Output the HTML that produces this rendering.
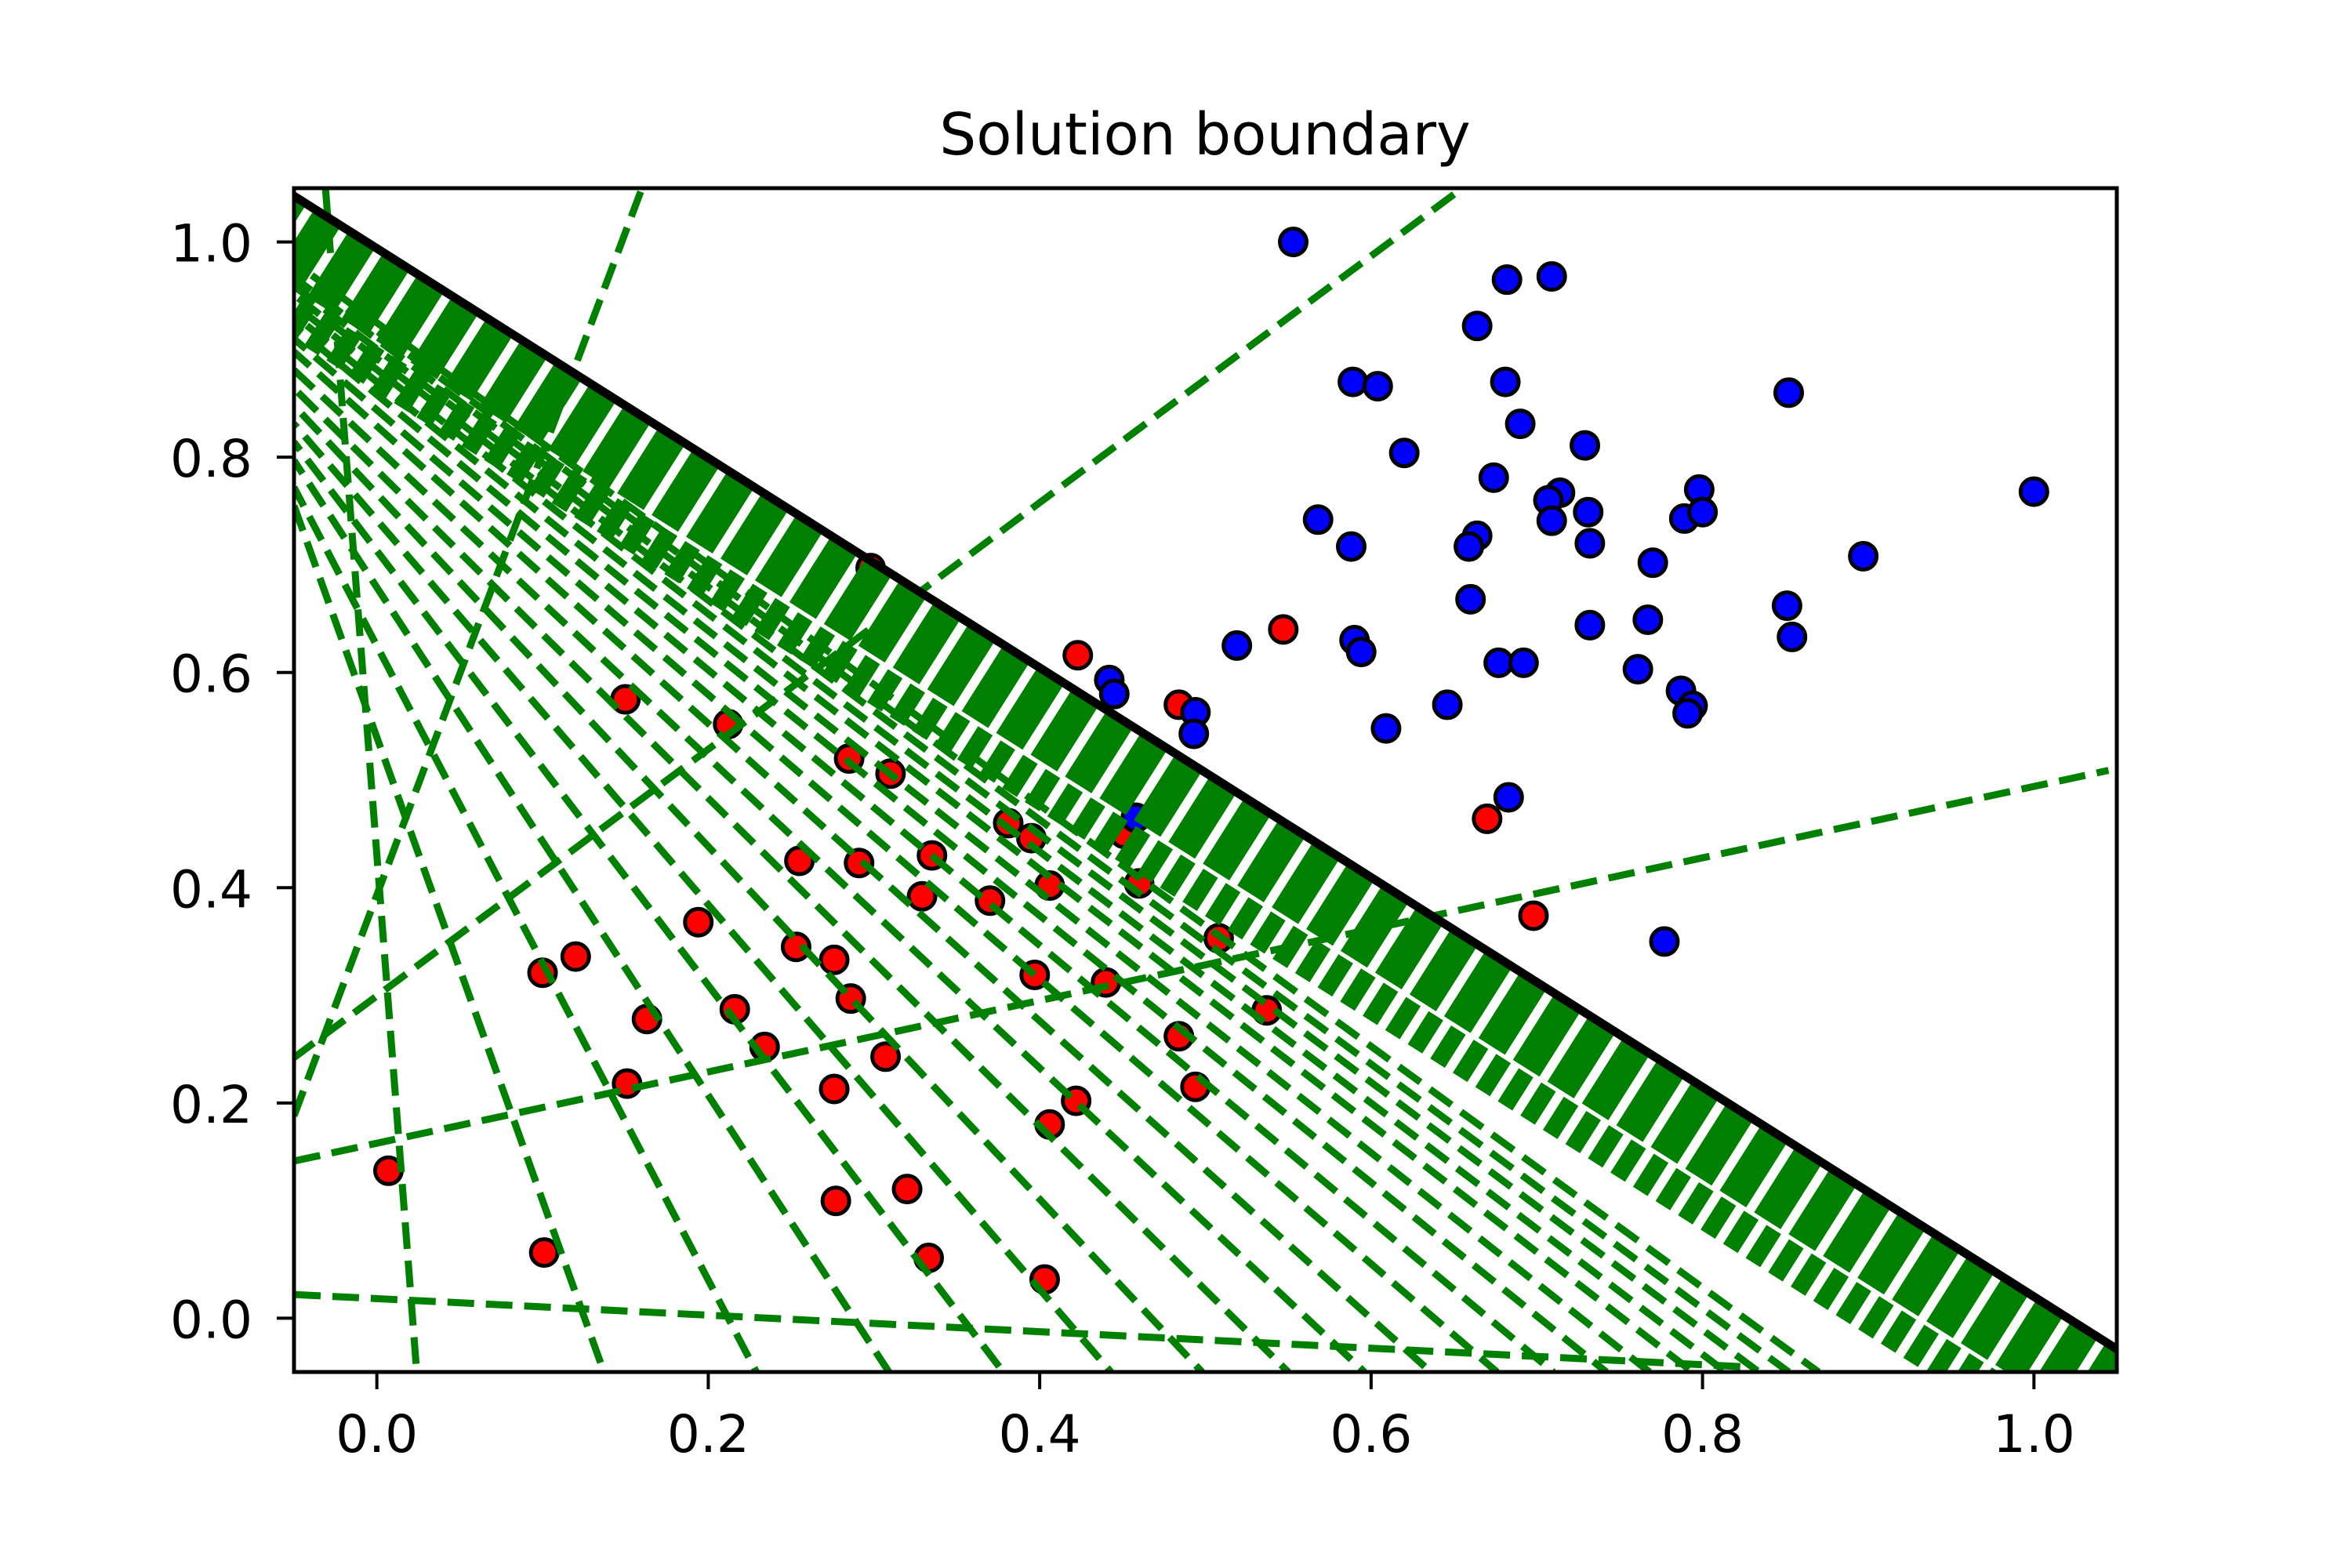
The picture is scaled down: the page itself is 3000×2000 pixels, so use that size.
<!DOCTYPE html>
<html><head><meta charset="utf-8"><style>
html,body{margin:0;padding:0;background:#fff;}
svg{display:block;}
text{font-family:"DejaVu Sans","Liberation Sans",sans-serif;fill:#000;}
</style></head><body>
<svg id="chart" width="3000" height="2000" viewBox="0 0 3000 2000" xmlns="http://www.w3.org/2000/svg">
<defs><clipPath id="clip"><rect x="375" y="240" width="2325" height="1510"/></clipPath></defs>
<rect x="0" y="0" width="3000" height="2000" fill="#fff"/>
<text x="1537" y="197" font-size="74" text-anchor="middle">Solution boundary</text>
<g id="plot" clip-path="url(#clip)"></g>
<rect x="375" y="240" width="2325" height="1510" fill="none" stroke="#000" stroke-width="5"/>
<g id="axes"></g>
</svg>
<script>
const xTicks=[0.0,0.2,0.4,0.6,0.8,1.0];
const yTicks=[0.0,0.2,0.4,0.6,0.8,1.0];
const tickLabels=["0.0","0.2","0.4","0.6","0.8","1.0"];
const redX=[0.298,0.423,0.547,0.150,0.212,0.285,0.310,0.484,0.381,0.395,0.451,0.460,0.406,0.255,0.291,0.335,0.329,0.370,0.194,0.253,0.276,0.120,0.100,0.397,0.440,0.508,0.698,0.670,0.537,0.286,0.216,0.163,0.234,0.307,0.484,0.494,0.276,0.151,0.422,0.406,0.007,0.277,0.320,0.101,0.333,0.403];
const redY=[0.697,0.616,0.640,0.575,0.552,0.520,0.506,0.570,0.460,0.446,0.450,0.404,0.402,0.425,0.423,0.430,0.392,0.388,0.368,0.345,0.333,0.336,0.321,0.319,0.312,0.353,0.374,0.464,0.286,0.297,0.287,0.278,0.252,0.243,0.262,0.215,0.213,0.218,0.202,0.180,0.137,0.109,0.120,0.061,0.056,0.036];
const blueX=[0.553,0.682,0.709,0.664,0.589,0.604,0.681,0.690,0.852,0.729,0.620,0.674,0.714,0.707,0.798,1.0,0.731,0.709,0.789,0.800,0.568,0.664,0.659,0.588,0.732,0.770,0.897,0.660,0.767,0.732,0.851,0.854,0.519,0.590,0.594,0.677,0.692,0.761,0.442,0.445,0.787,0.794,0.791,0.646,0.494,0.493,0.609,0.683,0.458,0.777];
const blueY=[1.0,0.965,0.968,0.922,0.870,0.866,0.870,0.831,0.860,0.811,0.804,0.781,0.767,0.760,0.770,0.768,0.749,0.741,0.743,0.749,0.742,0.727,0.717,0.717,0.720,0.702,0.708,0.668,0.649,0.644,0.662,0.633,0.625,0.630,0.619,0.609,0.609,0.603,0.593,0.580,0.583,0.569,0.562,0.570,0.563,0.543,0.548,0.484,0.465,0.350];
// standalone dashed history lines (data coords)
const lineX1=[-0.051,-0.05,-0.05,-0.05,-0.031];
const lineY1=[0.241,0.188,0.146,0.022,1.05];
const lineX2=[0.655,0.160,1.045,0.823,0.024];
const lineY2=[1.05,1.05,0.509,-0.045,-0.049];
// fan of history lines: start height on left edge (x=-0.05), end x at bottom edge (y=-0.05)
const fanStartY=[0.755,0.772,0.797,0.814,0.831,0.848,0.864,0.881,0.898,0.910,0.922,0.932,0.942,0.951,0.959,0.967,0.974,0.981];
const fanEndX=[0.137,0.229,0.309,0.378,0.443,0.498,0.550,0.596,0.636,0.676,0.710,0.742,0.768,0.794,0.814,0.834,0.852,0.870];
const boundaryIntercept=0.994, boundarySlope=-0.974;

const NS="http://www.w3.org/2000/svg";
const X0=-0.05,X1=1.05,Y0=-0.05,Y1=1.05,L=375,R=2700,T=240,B=1750;
function sx(v){return L+(v-X0)/(X1-X0)*(R-L);}
function sy(v){return B-(v-Y0)/(Y1-Y0)*(B-T);}
const plot=document.getElementById('plot'), axes=document.getElementById('axes');
function mk(tag,attrs,parent){const e=document.createElementNS(NS,tag);for(const k in attrs)e.setAttribute(k,attrs[k]);parent.appendChild(e);return e;}

for(let i=0;i<redX.length;i++){
  const c=mk('circle',{cx:sx(redX[i]),cy:sy(redY[i]),r:17,fill:'#ff0000',stroke:'#000','stroke-width':5},plot);
  
  
}
for(let i=0;i<blueX.length;i++){
  const c=mk('circle',{cx:sx(blueX[i]),cy:sy(blueY[i]),r:17,fill:'#0000ff',stroke:'#000','stroke-width':5},plot);
  
  
}
for(let i=0;i<lineX1.length;i++){
  const l=mk('line',{x1:sx(lineX1[i]),y1:sy(lineY1[i]),x2:sx(lineX2[i]),y2:sy(lineY2[i]),stroke:'#008000','stroke-width':9,'stroke-dasharray':'34 15'},plot);
  
  
}
for(let i=0;i<fanStartY.length;i++){
  const l=mk('line',{x1:sx(X0),y1:sy(fanStartY[i]),x2:sx(fanEndX[i]),y2:sy(Y0),stroke:'#008000','stroke-width':9,'stroke-dasharray':'34 15','stroke-dashoffset':i*7},plot);
  
  
}
// boundary endpoints
const bx1=sx(-0.1),by1=sy(boundaryIntercept+boundarySlope*-0.1),bx2=sx(1.15),by2=sy(boundaryIntercept+boundarySlope*1.15);
let dx=bx2-bx1,dy=by2-by1,len=Math.hypot(dx,dy);let nx=-dy/len,ny=dx/len;if(ny<0){nx=-nx;ny=-ny;}
function band(off,w,dash,name){
  const l=mk('line',{x1:bx1+nx*off,y1:by1+ny*off,x2:bx2+nx*off,y2:by2+ny*off,stroke:'#008000','stroke-width':w,'stroke-dasharray':dash},plot);
  
  
}
band(130,50,'22 12','green-band-outer');
band(50,100,'40 12','green-band');
const bl=mk('line',{x1:bx1,y1:by1,x2:bx2,y2:by2,stroke:'#000','stroke-width':11},plot);



for(let i=0;i<xTicks.length;i++){
  const x=sx(xTicks[i]);
  const t=mk('line',{x1:x,y1:B,x2:x,y2:B+22,stroke:'#000','stroke-width':4},axes);
  
  
  const tx=mk('text',{x:x,y:1852,'font-size':66,'text-anchor':'middle'},axes);
  tx.textContent=tickLabels[i];
  
  
}
for(let i=0;i<yTicks.length;i++){
  const y=sy(yTicks[i]);
  const t=mk('line',{x1:L-22,y1:y,x2:L,y2:y,stroke:'#000','stroke-width':4},axes);
  
  
  const tx=mk('text',{x:322,y:y+25,'font-size':66,'text-anchor':'end'},axes);
  tx.textContent=tickLabels[i];
  
  
}
</script>
</body></html>
